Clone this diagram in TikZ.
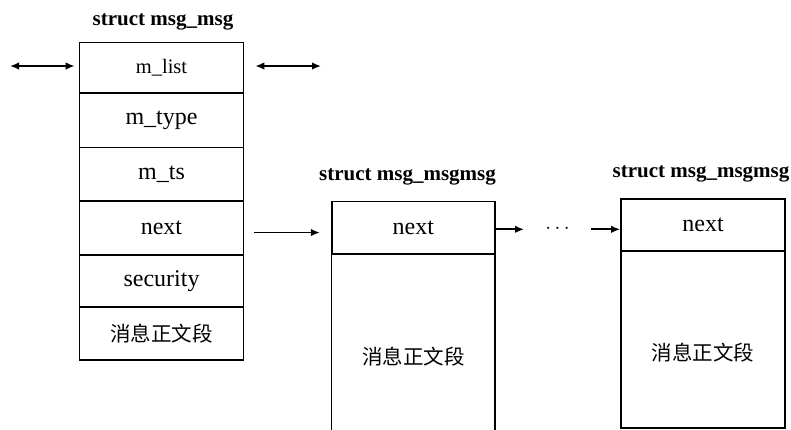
\documentclass[tikz,border=0pt]{standalone}
\usepackage{fontspec}
\setmainfont{Liberation Serif}
\newfontfamily\cjk{Noto Sans CJK SC}
\usetikzlibrary{arrows.meta}
\begin{document}
\begin{tikzpicture}[x=1pt,y=-1pt,
  cell/.style={draw,line width=1.7pt,inner sep=0pt,minimum width=164pt,anchor=north},
  rowtxt/.style={font=\fontsize{24}{24}\selectfont},
  cjktxt/.style={font=\cjk\fontsize{20.5}{20.5}\selectfont},
  title/.style={font=\bfseries\fontsize{21}{21}\selectfont,anchor=base},
  arr/.style={line width=1.7pt,-{Latex[length=9pt,width=7.5pt]}},
  darr/.style={line width=1.7pt,{Latex[length=9pt,width=7.5pt]}-{Latex[length=9pt,width=7.5pt]}}]
\useasboundingbox (0,0) rectangle (791,429);

% titles
\node[title] (t1) at (163,25) {struct msg\_msg};
\node[title] (t2) at (407.5,180) {struct msg\_msgmsg};
\node[title] (t3) at (701,177) {struct msg\_msgmsg};

% left structure
\node[cell,minimum height=50.6pt,font=\fontsize{20.5}{20.5}\selectfont] (mlist) at (161.5,41.7) {m\_list};
\node[cell,minimum height=54.4pt,rowtxt] (mtype) at (161.5,92.3) {m\_type};
\node[cell,minimum height=53.3pt,rowtxt] (mts) at (161.5,146.7) {m\_ts};
\node[cell,minimum height=54pt,rowtxt] (lnext) at (161.5,200) {next};
\node[cell,minimum height=52pt,rowtxt] (lsec) at (161.5,254) {security};
\node[cell,minimum height=53.3pt,cjktxt] (lbody) at (161.5,306) {消息正文段};

% middle structure
\node[cell,minimum width=163.3pt,minimum height=52.6pt,rowtxt] (mnext) at (413.4,200.7) {next};
\node[inner sep=0pt,minimum width=163.3pt,minimum height=176pt,anchor=north] (mbody) at (413.4,253.3) {};
\draw[line width=1.7pt] (mbody.north west) -- (mbody.south west);
\draw[line width=1.7pt] (mbody.north east) -- (mbody.south east);
\node[cjktxt] (mtext) at (413.4,357) {消息正文段};

% right structure
\node[cell,minimum width=164pt,minimum height=52pt,rowtxt] (rnext) at (703,198) {next};
\node[cell,minimum width=164pt,minimum height=177pt] (rbody) at (703,250) {};
\node[cjktxt] (rtext) at (703,353) {消息正文段};

% dots
\node[inner sep=0pt,font=\fontsize{22}{22}\selectfont] (dots) at (557.5,229.3) {$\cdots$};

% double arrows around m_list
\coordinate (l1) at (10,66);
\coordinate (r1) at (321,66);
\draw[darr,shorten >=4pt] (l1) -- (l1 -| mlist.west);
\draw[darr,shorten <=11pt] (r1 -| mlist.east) -- (r1);

% next pointers
\draw[arr,shorten <=10pt,shorten >=11pt] ([yshift=-4.7pt]lnext.east) -- ([yshift=-4.7pt]mnext.west);
\draw[arr,shorten >=33.5pt] (dots.center -| mnext.east) -- (dots.center);
\draw[arr,shorten <=33.5pt] (dots.center) -- (dots.center -| rnext.west);
\end{tikzpicture}
\end{document}
